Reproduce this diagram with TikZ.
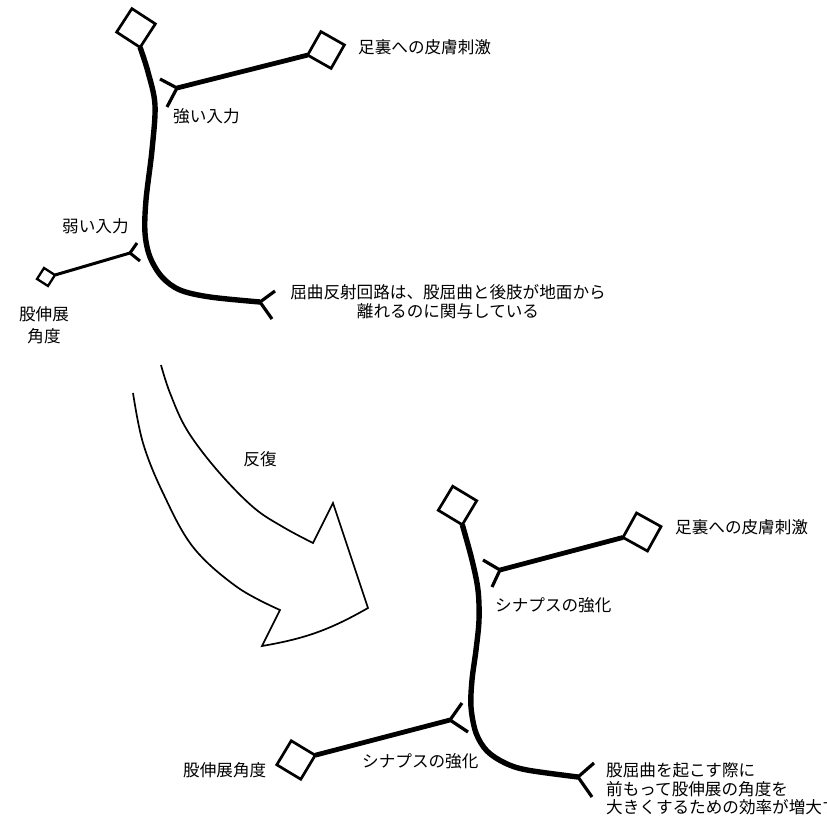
\documentclass[tikz,border=0pt]{standalone}
\usepackage{fontspec}
\setmainfont{Noto Sans CJK JP}
\begin{document}
\begin{tikzpicture}[x=1pt,y=-1pt,
  soma/.style={draw, line width=2.7pt, minimum size=#1, inner sep=0pt, outer sep=0pt},
  axon/.style={line width=5.4pt, line cap=butt, line join=round},
  strong/.style={line width=4.8pt},
  weak/.style={line width=3pt},
  syn/.style={line width=3.2pt},
  lbl/.style={inner sep=0pt, font=\fontsize{16.6}{19}\selectfont},
  bigarrow/.style={line width=1.7pt, line join=miter}]
\useasboundingbox (0,0) rectangle (827,818);

% ---------- upper neuron ----------
\node[soma=28, rotate=-33] (Ta) at (136,28) {};
\node[soma=27, rotate=-29.5] (Tb) at (326,50) {};
\node[soma=13, rotate=-32.5, line width=2.3pt] (Tc) at (46,277) {};
\coordinate (Tout) at (260,302);
\coordinate (Ts1) at (177,88);
\coordinate (Ts2) at (130,253);

\draw[axon] plot[smooth, tension=0.55] coordinates {(Ta.south east) (148,72) (155,105) (152,150) (146,200) (145,233) (150,257) (162,277) (180,290) (210,297) (Tout)};
\draw[syn] (Tout) -- (275,291) (Tout) -- (272,319);

\draw[strong] (Tb.south west) -- (Ts1);
\draw[syn] (Ts1) -- (160,79) (Ts1) -- (167,107);

\draw[weak] (Tc.north east) -- (Ts2);
\draw[weak] (Ts2) -- (137,243) (Ts2) -- (140,261);

\node[lbl, anchor=west] (L1) at (358,47) {足裏への皮膚刺激};
\node[lbl, anchor=west] (L2) at (173,116) {強い入力};
\node[lbl, anchor=west] (L3) at (62,226) {弱い入力};
\node[lbl, align=center, font=\fontsize{16.6}{22}\selectfont] (L4) at (44,325) {股伸展\\角度};
\node[lbl, align=center] (L5) at (448,302) {屈曲反射回路は、股屈曲と後肢が地面から\\離れるのに関与している};

% ---------- big arrow ----------
\draw[bigarrow] plot[smooth, tension=0.6] coordinates {(161,365) (170,393) (187,430) (217,470) (253,507) (283,527) (313,543)}
  -- (333,503) -- (368,608) to[bend left=10] (262,646) -- (280,610)
  -- plot[smooth, tension=0.6] coordinates {(280,610) (237,587) (193,547) (163,493) (143,443) (133,393)};
\node[lbl] (R) at (260,459) {反復};

% ---------- lower neuron ----------
\node[soma=28, rotate=-31] (Ba) at (457.5,505.5) {};
\node[soma=28, rotate=-29] (Bb) at (642,532) {};
\node[soma=28, rotate=-31] (Bc) at (296,760) {};
\coordinate (Bout) at (578,777);
\coordinate (Bs1) at (500,570);
\coordinate (Bs2) at (450,720);

\draw[axon] plot[smooth, tension=0.55] coordinates {(Ba.south east) (472,560) (478,590) (479,620) (476,650) (472,680) (471,707) (476,733) (487,751) (505,763) (527,770) (Bout)};
\draw[syn] (Bout) -- (594,763) (Bout) -- (592,797);

\draw[strong] (Bb.south west) -- (Bs1);
\draw[syn] (Bs1) -- (483,560) (Bs1) -- (492,587);

\draw[strong] (Bc.north east) -- (Bs2);
\draw[syn] (Bs2) -- (462,703) (Bs2) -- (468,732);

\node[lbl, anchor=west] (M1) at (675,527) {足裏への皮膚刺激};
\node[lbl, anchor=west] (M2) at (495,605) {シナプスの強化};
\node[lbl, anchor=west] (M3) at (362,761) {シナプスの強化};
\node[lbl, anchor=west] (M4) at (183,770) {股伸展角度};
\node[lbl, anchor=west, align=left, font=\fontsize{16.6}{18.5}\selectfont] (M5) at (606,789) {股屈曲を起こす際に\\前もって股伸展の角度を\\大きくするための効率が増大す};
\end{tikzpicture}
\end{document}
